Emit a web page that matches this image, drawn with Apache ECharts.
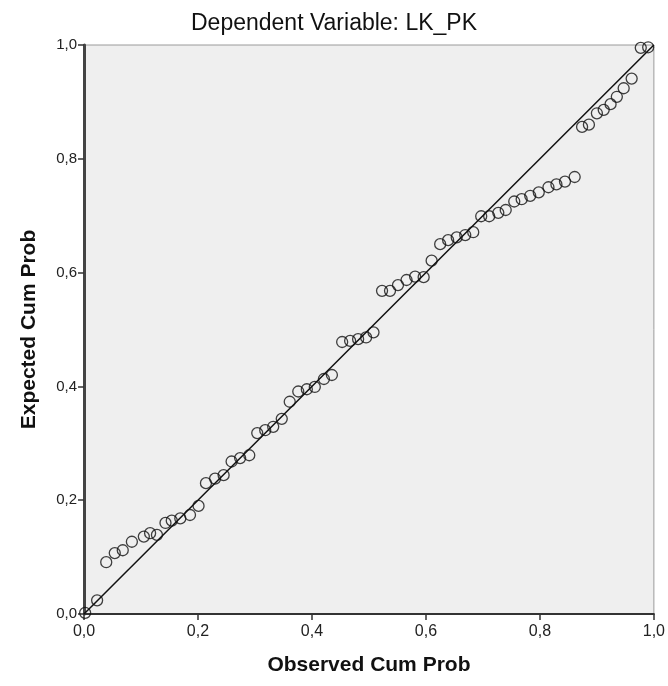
<!DOCTYPE html>
<html>
<head>
<meta charset="utf-8">
<script src="https://cdn.jsdelivr.net/npm/echarts@6/dist/echarts.min.js"></script>
<style>html,body{margin:0;padding:0;background:#fff}#chart{width:668px;height:686px}</style>
</head>
<body>
<div id="chart"></div>
<script>
var titleText = 'Dependent Variable: LK_PK';
var xAxisName = 'Observed Cum Prob';
var yAxisName = 'Expected Cum Prob';
var xTickLabels = ['0,0', '0,2', '0,4', '0,6', '0,8', '1,0'];
var yTickLabels = ['0,0', '0,2', '0,4', '0,6', '0,8', '1,0'];

var observed = [0.002, 0.023, 0.039, 0.054, 0.068, 0.084, 0.105, 0.116, 0.128, 0.143,
  0.154, 0.169, 0.186, 0.201, 0.214, 0.230, 0.245, 0.259, 0.274, 0.290,
  0.304, 0.318, 0.332, 0.347, 0.361, 0.376, 0.391, 0.405, 0.421, 0.435,
  0.453, 0.467, 0.481, 0.495, 0.508, 0.523, 0.537, 0.551, 0.566, 0.581,
  0.596, 0.610, 0.625, 0.639, 0.654, 0.669, 0.683, 0.697, 0.711, 0.727,
  0.740, 0.755, 0.768, 0.783, 0.798, 0.815, 0.829, 0.844, 0.861, 0.874,
  0.886, 0.900, 0.912, 0.924, 0.935, 0.947, 0.961, 0.977, 0.990];
var expected = [0.002, 0.024, 0.091, 0.107, 0.112, 0.127, 0.136, 0.142, 0.139, 0.160,
  0.164, 0.168, 0.174, 0.190, 0.230, 0.238, 0.244, 0.268, 0.274, 0.279,
  0.318, 0.323, 0.329, 0.343, 0.373, 0.391, 0.395, 0.399, 0.413, 0.420,
  0.478, 0.480, 0.483, 0.486, 0.495, 0.568, 0.568, 0.578, 0.587, 0.593,
  0.592, 0.621, 0.650, 0.657, 0.662, 0.666, 0.671, 0.699, 0.699, 0.705,
  0.710, 0.725, 0.729, 0.735, 0.741, 0.750, 0.755, 0.760, 0.768, 0.856,
  0.860, 0.880, 0.886, 0.896, 0.909, 0.924, 0.941, 0.995, 0.996];
var refLineX = [0, 1];
var refLineY = [0, 1];

var pts = observed.map(function (v, i) { return [v, expected[i]]; });
var refPts = refLineX.map(function (v, i) { return [v, refLineY[i]]; });

var chart = echarts.init(document.getElementById('chart'), null, {renderer: 'canvas'});
var font = '"Liberation Sans", Arial, sans-serif';
chart.setOption({
  animation: false,
  backgroundColor: '#ffffff',
  title: {
    text: titleText, left: 'center', top: 7,
    textStyle: {fontFamily: font, fontSize: 23, fontWeight: 'normal', color: '#111'}
  },
  grid: {
    left: 84, right: 14, top: 45, bottom: 72,
    show: true, backgroundColor: '#efefef', borderColor: '#9a9a9a', borderWidth: 1
  },
  xAxis: {
    type: 'value', min: 0, max: 1, interval: 0.2,
    name: xAxisName, nameLocation: 'middle', nameGap: 41,
    nameTextStyle: {fontFamily: font, fontSize: 21, fontWeight: 'bold', color: '#111'},
    axisLine: {show: true, onZero: false, lineStyle: {color: '#333', width: 2}},
    axisTick: {show: true, length: 6, lineStyle: {color: '#333', width: 1.5}},
    axisLabel: {
      margin: 10, fontFamily: font, fontSize: 16, color: '#222',
      formatter: function (v) { return xTickLabels[Math.round(v / 0.2)]; }
    },
    splitLine: {show: false}
  },
  yAxis: {
    type: 'value', min: 0, max: 1, interval: 0.2,
    name: yAxisName, nameLocation: 'middle', nameGap: 44, nameRotate: 90,
    nameTextStyle: {fontFamily: font, fontSize: 21, fontWeight: 'bold', color: '#111'},
    axisLine: {show: true, onZero: false, lineStyle: {color: '#444', width: 3}},
    axisTick: {show: true, length: 6, lineStyle: {color: '#333', width: 1.5}},
    axisLabel: {
      margin: 7, fontFamily: font, fontSize: 15, color: '#222',
      formatter: function (v) { return yTickLabels[Math.round(v / 0.2)]; }
    },
    splitLine: {show: false}
  },
  series: [
    {
      type: 'line', data: refPts, showSymbol: false, silent: true,
      lineStyle: {color: '#111', width: 1.5}, z: 2
    },
    {
      type: 'scatter', data: pts, symbol: 'circle', symbolSize: 11,
      itemStyle: {color: 'rgba(0,0,0,0)', borderColor: '#111', borderWidth: 1.3}, z: 3
    }
  ]
});
</script>
</body>
</html>
